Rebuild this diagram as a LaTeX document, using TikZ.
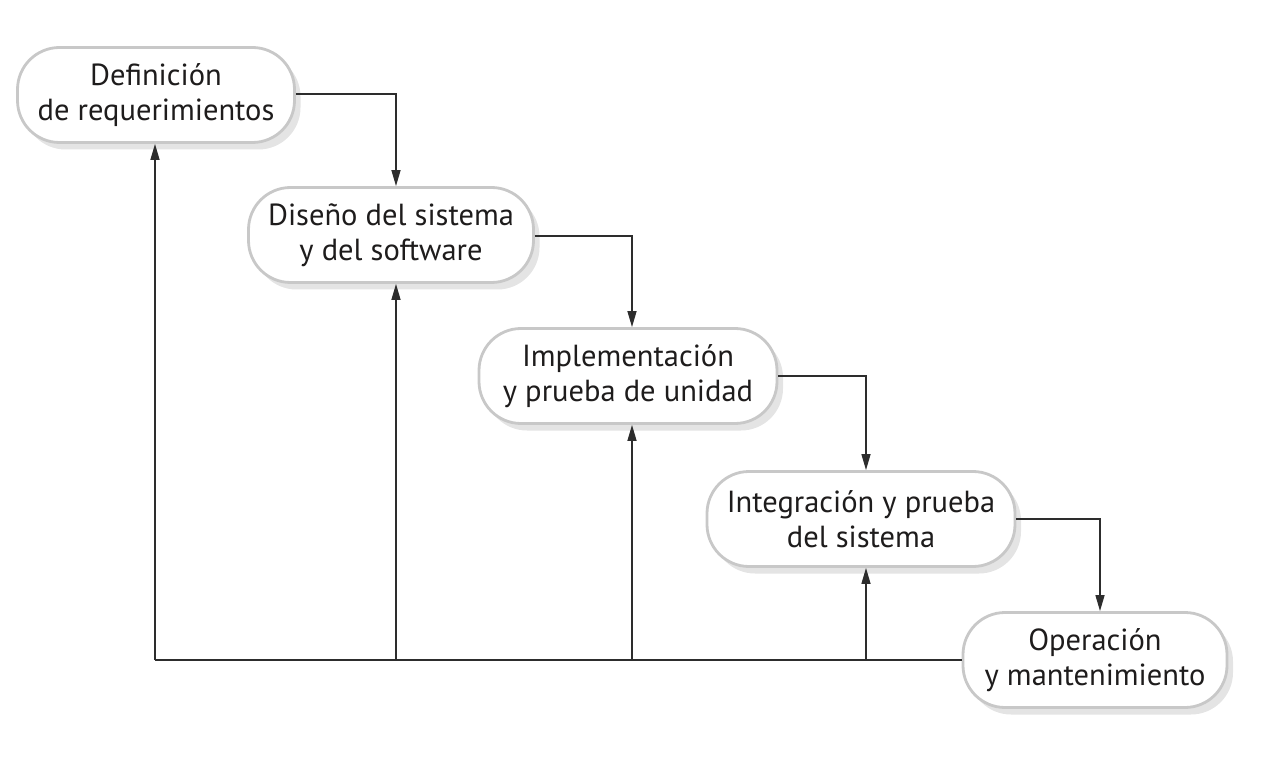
\documentclass[tikz,border=0pt]{standalone}
\usepackage{fontspec}
\setmainfont{PT Sans}
\usetikzlibrary{arrows.meta,shadows}
\definecolor{boxline}{RGB}{200,200,200}
\definecolor{shadowc}{RGB}{228,228,228}
\definecolor{linec}{RGB}{45,45,45}
\definecolor{textc}{RGB}{30,28,28}
\tikzset{
  stage/.style={draw=boxline, line width=2.8pt, fill=white, rounded corners=42pt,
    align=center, inner sep=0pt, minimum height=95pt, text=textc,
    font=\fontsize{30.5pt}{35pt}\selectfont,
    drop shadow={shadow xshift=6pt, shadow yshift=-7pt, fill=shadowc, opacity=1}},
  conn/.style={draw=linec, line width=1.4pt},
  arr/.style={conn, -{Triangle[length=16pt,width=9pt]}}
}
\begin{document}
\begin{tikzpicture}[x=1pt,y=-1pt]
\useasboundingbox (0,0) rectangle (1267,759);
\node[stage, minimum width=277pt] (d1) at (156,95) {Definición\\de requerimientos};
\node[stage, minimum width=285pt] (d2) at (391,235) {Diseño del sistema\\y del software};
\node[stage, minimum width=298pt] (d3) at (628,376) {Implementación\\y prueba de unidad};
\node[stage, minimum width=308pt] (d4) at (861,519) {Integración y prueba\\del sistema};
\node[stage, minimum width=264pt] (d5) at (1095,660) {Operación\\y mantenimiento};
\coordinate (a1) at (396,94);
\coordinate (a2) at (632,236);
\coordinate (a3) at (866,376);
\coordinate (a4) at (1100,519);
\coordinate (b1) at (155,660);
\draw[arr] (d1.east |- a1) -| (a1 |- d2.north);
\draw[arr] (d2.east |- a2) -| (a2 |- d3.north);
\draw[arr] (d3.east |- a3) -| (a3 |- d4.north);
\draw[arr] (d4.east |- a4) -| (a4 |- d5.north);
\draw[conn] (d5.west) -- (b1);
\draw[arr] (b1) -- (b1 |- d1.south);
\draw[arr] (b1 -| a1) -- (a1 |- d2.south);
\draw[arr] (b1 -| a2) -- (a2 |- d3.south);
\draw[arr] (b1 -| a3) -- (a3 |- d4.south);
\end{tikzpicture}
\end{document}
